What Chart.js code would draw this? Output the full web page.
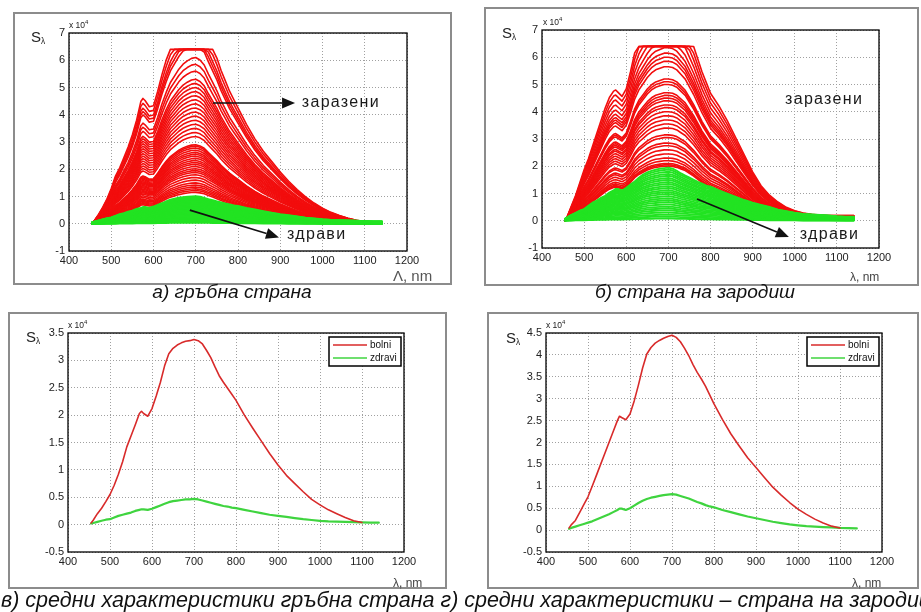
<!DOCTYPE html>
<html><head><meta charset="utf-8">
<script src="https://cdn.jsdelivr.net/npm/chart.js@4.4.1/dist/chart.umd.min.js"></script>
<style>
body{margin:0;background:#fff;width:921px;height:612px;overflow:hidden;position:relative;font-family:"Liberation Sans",Arial,sans-serif;}
.frame{position:absolute;border:2px solid #8c8c8c;box-sizing:border-box;pointer-events:none;}
canvas{position:absolute;}
.t{position:absolute;white-space:nowrap;line-height:1;color:#222;}
.cap{position:absolute;font-style:italic;color:#111;white-space:nowrap;line-height:1.2;}
sub{font-size:55%;vertical-align:-2px;}
sup{font-size:70%;vertical-align:4px;}
</style></head><body>
<script>
// ---------------- DATA ----------------
// wavelength grid, nm
const lam = [455,460,470,480,490,500,510,520,530,540,550,560,570,575,580,590,
  600,610,620,630,640,650,660,670,680,690,700,710,720,730,740,750,760,770,780,790,800,
  820,840,860,880,900,920,940,960,980,1000,1020,1040,1060,1080,1100,1120,1140];

// в) mean curves, dorsal side (x 10^4)
const bolniC = [0.03,0.08,0.2,0.3,0.42,0.55,0.72,0.92,1.15,1.42,1.62,1.82,2.03,2.07,2.03,1.98,
  2.12,2.35,2.6,2.9,3.12,3.22,3.28,3.32,3.35,3.36,3.38,3.36,3.3,3.18,3.05,2.88,2.72,2.6,2.49,2.38,2.27,
  2.0,1.76,1.53,1.3,1.09,0.9,0.75,0.6,0.46,0.36,0.27,0.2,0.13,0.07,0.04,null,null];
const zdraviC = [0.02,0.03,0.05,0.07,0.09,0.1,0.13,0.16,0.18,0.2,0.22,0.25,0.27,0.28,0.28,0.27,
  0.29,0.32,0.35,0.38,0.41,0.43,0.44,0.45,0.46,0.46,0.47,0.46,0.44,0.42,0.4,0.38,0.36,0.34,0.33,0.31,0.3,
  0.27,0.24,0.21,0.18,0.16,0.14,0.12,0.1,0.085,0.07,0.06,0.055,0.05,0.045,0.04,0.035,0.035];
// г) mean curves, germ side (x 10^4)
const bolniD = [0.05,0.12,0.22,0.4,0.58,0.76,1.0,1.25,1.5,1.75,2.0,2.25,2.5,2.6,2.57,2.52,
  2.65,2.95,3.31,3.7,4.02,4.17,4.27,4.33,4.38,4.42,4.45,4.4,4.3,4.15,3.98,3.78,3.6,3.45,3.28,3.08,2.88,
  2.53,2.2,1.92,1.65,1.43,1.2,0.98,0.8,0.63,0.48,0.36,0.25,0.16,0.09,0.05,null,null];
const zdraviD = [0.03,0.05,0.08,0.11,0.14,0.17,0.2,0.24,0.28,0.32,0.36,0.41,0.46,0.49,0.49,0.46,
  0.5,0.56,0.62,0.67,0.71,0.74,0.76,0.78,0.8,0.81,0.82,0.81,0.78,0.75,0.72,0.68,0.64,0.61,0.57,0.54,0.52,
  0.46,0.41,0.36,0.31,0.27,0.23,0.19,0.16,0.13,0.11,0.09,0.08,0.07,0.06,0.05,0.045,0.04];

// а), б) individual spectra: curve profile (relative to value at 700 nm) read from the envelopes
const redProfileA = [0.0,0.015,0.045,0.08,0.12,0.17,0.23,0.27,0.32,0.37,0.43,0.5,0.59,0.605,0.595,0.565,
  0.57,0.64,0.72,0.79,0.85,0.89,0.93,0.96,0.98,0.995,1.0,0.985,0.955,0.9,0.85,0.8,0.74,0.69,0.64,0.6,0.56,
  0.48,0.41,0.35,0.3,0.25,0.205,0.165,0.13,0.1,0.075,0.055,0.04,0.027,0.017,0.01,null,null];
const redProfileB = [0.0,0.02,0.07,0.12,0.18,0.24,0.29,0.35,0.41,0.47,0.53,0.58,0.61,0.615,0.605,0.585,
  0.62,0.7,0.79,0.85,0.89,0.93,0.96,0.98,0.99,1.0,1.0,0.995,0.98,0.95,0.92,0.87,0.82,0.76,0.7,0.65,0.6,
  0.54,0.47,0.39,0.31,0.23,0.165,0.12,0.088,0.063,0.047,0.036,0.03,0.027,0.025,0.025,0.025,0.025];
const greenProfile = [0.04,0.065,0.11,0.15,0.19,0.22,0.28,0.34,0.38,0.43,0.47,0.53,0.57,0.6,0.6,0.57,
  0.62,0.68,0.74,0.81,0.87,0.91,0.94,0.96,0.98,0.99,1.0,0.98,0.94,0.89,0.85,0.81,0.77,0.73,0.7,0.66,0.64,
  0.57,0.51,0.45,0.39,0.34,0.3,0.26,0.21,0.18,0.15,0.13,0.12,0.11,0.1,0.085,0.075,0.075];
// levels of the individual curves at 700 nm (x 10^4), before detector saturation
const redLevelsA = [7.6,7.3,7.0,6.8,6.6,6.1,5.85,5.6,5.3,5.15,5.0,4.85,4.7,4.55,4.4,4.25,4.1,3.95,3.8,3.65,3.5,3.35,3.2,
  2.9,2.85,2.78,2.7,2.62,2.55,2.48,2.4,2.32,2.25,2.18,2.1,2.02,1.95,1.88,1.8,1.7,1.6,1.5,1.42,1.35,1.28,1.22,1.15];
const greenLevelsA = [1.0,0.95,0.9,0.85,0.8,0.75,0.7,0.65,0.6,0.55,0.5,0.45,0.4,0.35,0.3,0.25,0.2,0.15,0.1,0.05];
const redLevelsB = [7.8,7.5,7.2,6.9,6.6,6.35,6.15,6.0,5.85,5.65,5.2,5.1,5.0,4.7,4.6,4.5,4.4,4.25,4.15,4.0,3.85,3.7,3.55,3.4,
  3.15,3.05,2.85,2.75,2.6,2.45,2.3,2.2,2.1,2.05,2.0];
const greenLevelsB = [1.95,1.88,1.8,1.72,1.65,1.57,1.5,1.42,1.35,1.27,1.2,1.12,1.05,0.98,0.9,0.82,0.75,0.68,0.6,0.52,0.45,0.38,0.3,0.22,0.15,0.08];
const saturation = 6.4;

const xTicks = {min:400, max:1200, step:100};
const yTicksTop = {min:-1, max:7, step:1};
const yTicksC = {min:-0.5, max:3.5, step:0.5};
const yTicksD = {min:-0.5, max:4.5, step:0.5};
const legendLabels = ['bolni','zdravi'];

// ---------------- LAYOUT ----------------
const RED='#f20d0d', GREEN='#22e322', MRED='#d82a2a', MGREEN='#3fd43f';
const panels = {
  a:{frame:{x:13,y:12,w:439,h:273}, area:{l:56,t:21,r:394,b:239}},
  b:{frame:{x:484,y:7,w:435,h:279}, area:{l:58,t:23,r:395,b:241}},
  c:{frame:{x:8,y:312,w:439,h:277}, area:{l:60,t:21,r:396,b:240}},
  d:{frame:{x:487,y:312,w:432,h:277}, area:{l:59,t:21,r:395,b:240}}
};
const XH = 20;
Chart.defaults.font.family = '"Liberation Sans", Arial, sans-serif';

function pts(vals){ return lam.map((x,i)=>({x, y: vals[i]})); }
function scaled(profile, level){
  return lam.map((x,i)=>({x, y: profile[i]==null ? null : Math.min(profile[i]*level, saturation)}));
}

const boxPlugin = {
  id:'boxnotes',
  afterDraw(chart, args, o){
    const {ctx, chartArea:a, scales:{x,y}} = chart;
    ctx.save();
    ctx.strokeStyle='#000'; ctx.lineWidth=1.3;
    ctx.strokeRect(a.left, a.top, a.right-a.left, a.bottom-a.top);
    (o.arrows||[]).forEach(ar=>{
      const x0=x.getPixelForValue(ar.from[0]), y0=y.getPixelForValue(ar.from[1]);
      const x1=x.getPixelForValue(ar.to[0]), y1=y.getPixelForValue(ar.to[1]);
      const ang=Math.atan2(y1-y0,x1-x0), L=13, W=5.5;
      ctx.strokeStyle='#111'; ctx.lineWidth=1.6;
      ctx.beginPath(); ctx.moveTo(x0,y0);
      ctx.lineTo(x1-Math.cos(ang)*L, y1-Math.sin(ang)*L); ctx.stroke();
      ctx.fillStyle='#111'; ctx.beginPath();
      ctx.moveTo(x1,y1);
      ctx.lineTo(x1-Math.cos(ang)*L - Math.sin(ang)*W, y1-Math.sin(ang)*L + Math.cos(ang)*W);
      ctx.lineTo(x1-Math.cos(ang)*L + Math.sin(ang)*W, y1-Math.sin(ang)*L - Math.cos(ang)*W);
      ctx.closePath(); ctx.fill();
    });
    (o.labels||[]).forEach(l=>{
      ctx.fillStyle='#1a1a1a'; ctx.font='16px "Liberation Sans", Arial, sans-serif';
      try{ ctx.letterSpacing='1.3px'; }catch(e){}
      ctx.textBaseline='middle'; ctx.textAlign='left';
      ctx.fillText(l.text, x.getPixelForValue(l.at[0]), y.getPixelForValue(l.at[1]));
      try{ ctx.letterSpacing='0px'; }catch(e){}
    });
    if(o.legend){
      const w=72, h=29, bx=a.right-3-w, by=a.top+4;
      ctx.fillStyle='#fff'; ctx.fillRect(bx,by,w,h);
      ctx.strokeStyle='#000'; ctx.lineWidth=1.5; ctx.strokeRect(bx,by,w,h);
      ctx.font='10px "Liberation Sans", Arial, sans-serif'; ctx.textBaseline='middle';
      chart.data.datasets.forEach((ds,i)=>{
        const ry = by + 8 + i*13;
        ctx.strokeStyle=ds.borderColor; ctx.lineWidth=1.6;
        ctx.beginPath(); ctx.moveTo(bx+4,ry); ctx.lineTo(bx+38,ry); ctx.stroke();
        ctx.fillStyle='#111'; ctx.fillText(ds.label, bx+41, ry);
      });
    }
    ctx.restore();
  }
};

const plainTick = v => String(v);

function makeChart(key, datasets, yt, notes){
  const p = panels[key], f=p.frame, ar=p.area;
  const cv = document.createElement('canvas');
  cv.width=f.w; cv.height=f.h;
  cv.style.left=f.x+'px'; cv.style.top=f.y+'px';
  cv.style.width=f.w+'px'; cv.style.height=f.h+'px';
  document.body.appendChild(cv);
  const fr = document.createElement('div'); fr.className='frame';
  Object.assign(fr.style,{left:f.x+'px',top:f.y+'px',width:f.w+'px',height:f.h+'px'});
  document.body.appendChild(fr);
  const gridCommon = {color:'#a0a0a0', lineWidth:1, drawTicks:false};
  new Chart(cv, {
    type:'line',
    data:{datasets},
    options:{
      responsive:false, animation:false, devicePixelRatio:1, events:[],
      layout:{padding:{left:0, top:ar.t, right:f.w-ar.r, bottom:f.h-ar.b-XH}},
      elements:{point:{radius:0}, line:{tension:0, borderCapStyle:'round', borderJoinStyle:'round'}},
      plugins:{legend:{display:false}, tooltip:{enabled:false}, boxnotes:notes},
      scales:{
        x:{type:'linear', min:xTicks.min, max:xTicks.max,
           ticks:{stepSize:xTicks.step, color:'#222', font:{size:11}, padding:3, maxRotation:0, autoSkip:false, callback:plainTick},
           grid:gridCommon, border:{display:false, dash:[1,2]},
           afterFit(s){ s.height = XH; }},
        y:{type:'linear', min:yt.min, max:yt.max,
           ticks:{stepSize:yt.step, color:'#222', font:{size:11}, padding:4, autoSkip:false, callback:plainTick},
           grid:gridCommon, border:{display:false, dash:[1,2]},
           afterFit(s){ s.width = ar.l; }}
      }
    },
    plugins:[boxPlugin]
  });
}

function line(data, color, w, label){
  return {data, borderColor:color, borderWidth:w, label:label||'', fill:false, spanGaps:false, pointRadius:0};
}

// а)
makeChart('a', [
  ...greenLevelsA.map(v=>line(scaled(greenProfile,v), GREEN, 2.6)),
  ...redLevelsA.map(v=>line(scaled(redProfileA,v), RED, 1.6))
], yTicksTop, {
  arrows:[{from:[741,4.43],to:[935,4.43]},{from:[686,0.5],to:[897,-0.5]}],
  labels:[{text:'заразени',at:[951,4.43]},{text:'здрави',at:[916,-0.41]}]
});
// б)
makeChart('b', [
  ...greenLevelsB.map(v=>line(scaled(greenProfile,v), GREEN, 1.9)),
  ...redLevelsB.map(v=>line(scaled(redProfileB,v), RED, 1.6))
], yTicksTop, {
  arrows:[{from:[768,0.8],to:[986,-0.6]}],
  labels:[{text:'заразени',at:[977,4.43]},{text:'здрави',at:[1012,-0.52]}]
});
// в)
makeChart('c', [line(pts(bolniC), MRED, 1.6, legendLabels[0]), line(pts(zdraviC), MGREEN, 2.2, legendLabels[1])],
  yTicksC, {legend:true});
// г)
makeChart('d', [line(pts(bolniD), MRED, 1.6, legendLabels[0]), line(pts(zdraviD), MGREEN, 2.2, legendLabels[1])],
  yTicksD, {legend:true});

// ---------------- TEXT ----------------
function addText(html, x, y, size, extra){
  const d=document.createElement('div'); d.className='t'; d.innerHTML=html;
  d.style.left=x+'px'; d.style.top=y+'px'; d.style.fontSize=size+'px';
  if(extra) Object.assign(d.style, extra);
  document.body.appendChild(d); return d;
}
addText('S<sub>λ</sub>', 31, 29, 15);
addText('S<sub>λ</sub>', 502, 25, 15);
addText('S<sub>λ</sub>', 26, 329, 15);
addText('S<sub>λ</sub>', 506, 330, 15);
addText('x 10<sup>4</sup>', 69, 20, 8.5);
addText('x 10<sup>4</sup>', 543, 17, 8.5);
addText('x 10<sup>4</sup>', 68, 320, 8.5);
addText('x 10<sup>4</sup>', 546, 320, 8.5);
addText('Λ, nm', 393, 268, 15, {color:'#555'});
addText('λ, nm', 850, 271, 12, {color:'#444'});
addText('λ, nm', 393, 577, 12, {color:'#444'});
addText('λ, nm', 852, 577, 12, {color:'#444'});

function mk(text, size){
  const d=document.createElement('div'); d.className='cap'; d.textContent=text;
  d.style.fontSize=size+'px'; d.style.left='0px'; d.style.top='0px';
  document.body.appendChild(d); return d;
}
function place(d, left, cy){
  const r=d.getBoundingClientRect();
  d.style.left=left+'px'; d.style.top=(cy-r.height/2)+'px';
}
// caption font sized from caption а) width in the reference
const capA = mk('а) гръбна страна', 100);
const capSize = 0.95*100*168/capA.getBoundingClientRect().width;
capA.style.fontSize = capSize+'px';
place(capA, 232 - capA.getBoundingClientRect().width/2, 291);
const capB = mk('б) страна на зародиш', capSize);
place(capB, 695 - capB.getBoundingClientRect().width/2, 291);
const capBottom = mk('в) средни характеристики гръбна страна г) средни характеристики – страна на зародиш', 100);
capBottom.style.fontSize = (100*936/capBottom.getBoundingClientRect().width)+'px';
place(capBottom, 1, 601);
</script>
</body></html>
